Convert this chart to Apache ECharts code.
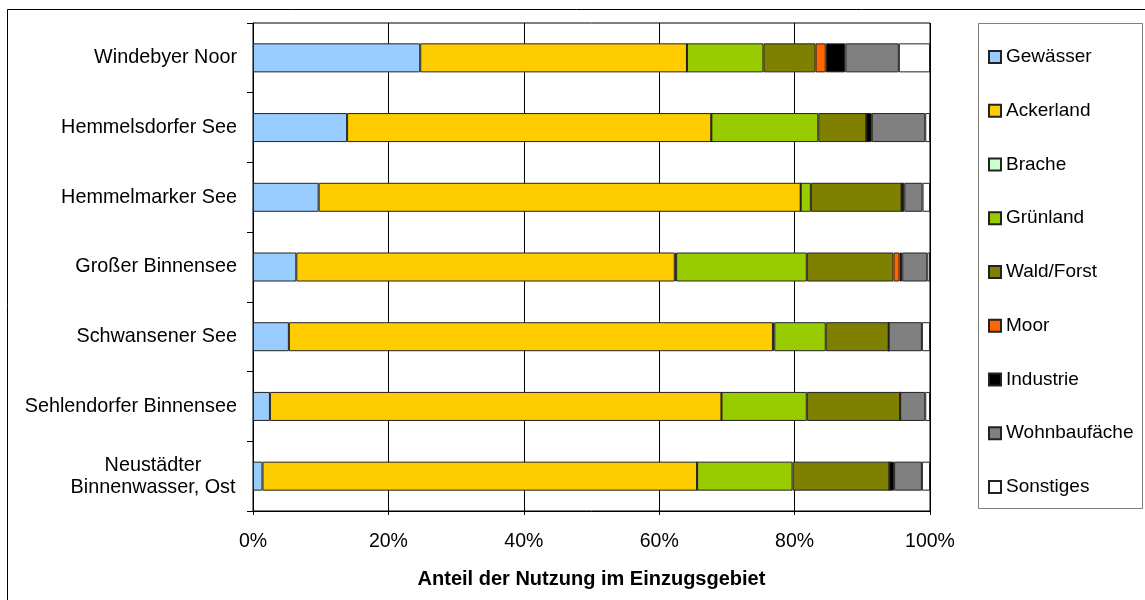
<!DOCTYPE html>
<html>
<head>
<meta charset="utf-8">
<script src="https://cdn.jsdelivr.net/npm/echarts@6/dist/echarts.min.js"></script>
<style>
  html, body { margin: 0; padding: 0; background: #fff; }
  #chart { width: 1145px; height: 600px; }
</style>
</head>
<body>
<div id="chart"></div>
<script>
// Seen (top to bottom)
const lakes = ['Windebyer Noor', 'Hemmelsdorfer See', 'Hemmelmarker See', 'Großer Binnensee',
  'Schwansener See', 'Sehlendorfer Binnensee', 'Neustädter\nBinnenwasser, Ost']

// Anteil in % je Nutzungsart
const gewaesser = [24.7, 13.9, 9.7, 6.4, 5.3, 2.5, 1.4]
const ackerland = [39.4, 53.8, 71.2, 55.9, 71.5, 66.7, 64.2]
const brache = [0, 0, 0, 0.2, 0.2, 0, 0]
const gruenland = [11.3, 15.8, 1.5, 19.3, 7.6, 12.6, 14.1]
const wald = [7.7, 7.1, 13.4, 12.8, 9.3, 13.8, 14.3]
const moor = [1.5, 0, 0, 0.9, 0, 0, 0]
const industrie = [2.9, 0.8, 0.4, 0.4, 0, 0, 0.7]
const wohnbau = [7.9, 7.9, 2.7, 3.7, 4.9, 3.7, 4.1]
const sonstiges = [4.6, 0.7, 1.1, 0.4, 1.2, 0.7, 1.2]

const xTicks = [0, 20, 40, 60, 80, 100]

const layers = [
  ['Gewässer', gewaesser, '#99ccff'],
  ['Ackerland', ackerland, '#ffcc00'],
  ['Brache', brache, '#ccffcc'],
  ['Grünland', gruenland, '#99cc00'],
  ['Wald/Forst', wald, '#808000'],
  ['Moor', moor, '#ff6600'],
  ['Industrie', industrie, '#000000'],
  ['Wohnbaufäche', wohnbau, '#808080'],
  ['Sonstiges', sonstiges, '#ffffff']
]

const font = 'Liberation Sans, Arial, sans-serif'

const chart = echarts.init(document.getElementById('chart'))

chart.setOption({
  animation: false,
  textStyle: { fontFamily: font, color: '#000' },
  graphic: [
    { type: 'rect', shape: { x: 7.5, y: 9.5, width: 1150, height: 600 },
      style: { fill: 'none', stroke: '#000', lineWidth: 1 }, silent: true },
    { type: 'rect', shape: { x: 978.5, y: 23.5, width: 164, height: 485 },
      style: { fill: '#fff', stroke: '#808080', lineWidth: 1 }, silent: true, z: -1 }
  ],
  legend: {
    orient: 'vertical',
    left: 983,
    top: 42,
    icon: 'rect',
    itemWidth: 12,
    itemHeight: 12,
    itemGap: 33.75,
    textStyle: { fontFamily: font, fontSize: 19, lineHeight: 20, color: '#000' },
    data: layers.map(l => l[0])
  },
  grid: {
    left: 253,
    top: 23,
    right: 215,
    bottom: 89,
    show: true,
    borderColor: '#000',
    borderWidth: 1
  },
  xAxis: {
    type: 'value',
    min: xTicks[0],
    max: xTicks[xTicks.length - 1],
    interval: 20,
    name: 'Anteil der Nutzung im Einzugsgebiet',
    nameLocation: 'middle',
    nameGap: 58,
    nameTextStyle: { fontFamily: font, fontSize: 20, fontWeight: 'bold', color: '#000' },
    axisLine: { show: true, lineStyle: { color: '#000', width: 1 } },
    axisTick: { show: true, length: 4, lineStyle: { color: '#000' } },
    axisLabel: { formatter: '{value}%', fontSize: 19.5, color: '#000', margin: 21 },
    splitLine: { show: true, lineStyle: { color: '#000', width: 1 } }
  },
  yAxis: {
    type: 'category',
    inverse: true,
    data: lakes,
    axisLine: { show: true, lineStyle: { color: '#000', width: 1 } },
    axisTick: { show: true, length: 6, lineStyle: { color: '#000' } },
    axisLabel: {
      fontSize: 19.8,
      color: '#000',
      margin: 16,
      formatter: v => v.indexOf('\n') >= 0 ? v.split('\n').map(s => '{c|' + s + '}').join('\n') : v,
      rich: { c: { width: 168, align: 'center', fontSize: 19.8, lineHeight: 22, fontFamily: font, color: '#000' } }
    },
    splitLine: { show: false }
  },
  series: layers.map(([name, values, color]) => ({
    name,
    type: 'bar',
    stack: 'nutzung',
    barWidth: 29,
    data: values,
    itemStyle: { color, borderColor: '#222', borderWidth: 1 }
  }))
})
</script>
</body>
</html>
